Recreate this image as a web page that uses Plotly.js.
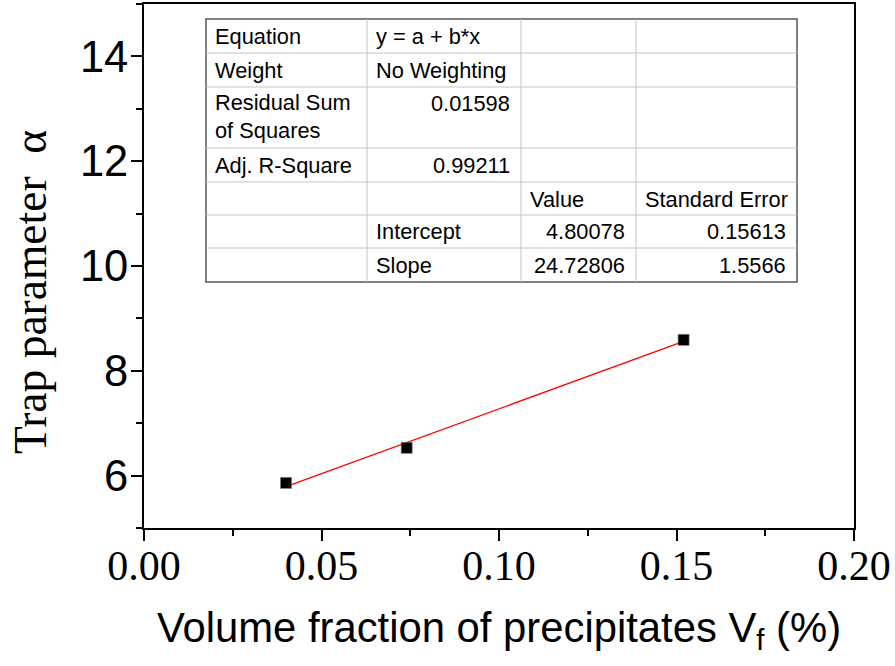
<!DOCTYPE html>
<html>
<head>
<meta charset="utf-8">
<script src="https://cdn.plot.ly/plotly-3.0.1.min.js"></script>
<style>html,body{margin:0;padding:0;background:#fff;}#chart{width:895px;height:666px;}</style>
</head>
<body>
<div id="chart"></div>
<script>
// ---- data ----
const volumeFraction = [0.040, 0.074, 0.152];
const trapParameter = [5.86, 6.53, 8.59];
const fitX = [0.040, 0.152];
const fitY = [5.79, 8.56];
const xTickVals = [0.00, 0.05, 0.10, 0.15, 0.20];
const yTickVals = [6, 8, 10, 12, 14];
const xTitle = "Volume fraction of precipitates V<sub>f</sub> (%)";
const yTitle = "Trap parameter  α";

// fit report table (rows of 4 cells)
const tableCol1 = ["Equation", "Weight", "Residual Sum<br>of Squares", "Adj. R-Square", "", "", ""];
const tableCol2 = ["y = a + b*x", "No Weighting", "0.01598", "0.99211", "", "Intercept", "Slope"];
const tableCol3 = ["", "", "", "", "Value", "4.80078", "24.72806"];
const tableCol4 = ["", "", "", "", "Standard Error", "0.15613", "1.5566"];
const tableCol2Align = ["left", "left", "right", "right", "left", "left", "left"];
const tableCol3Align = ["left", "left", "left", "left", "left", "right", "right"];
const tableCol4Align = ["left", "left", "left", "left", "left", "right", "right"];

// ---- layout geometry (pixels) ----
const W = 895, H = 666;
const PL = 144, PR = 854, PT = 4, PB = 528;
const px = v => (v - PL) / (PR - PL);
const py = v => (PB - v) / (PB - PT);

const colEdges = [206, 367, 521, 636, 797];
const rowEdges = [19, 53, 87, 148, 182, 215, 248, 282];

const shapes = [];
const annotations = [];
shapes.push({type: "rect", xref: "paper", yref: "paper",
  x0: px(colEdges[0]), x1: px(colEdges[4]), y0: py(rowEdges[0]), y1: py(rowEdges[rowEdges.length - 1]),
  fillcolor: "white", line: {color: "#555", width: 1.5}, layer: "above"});
for (let i = 1; i < rowEdges.length - 1; i++) {
  shapes.push({type: "line", xref: "paper", yref: "paper",
    x0: px(colEdges[0]), x1: px(colEdges[4]), y0: py(rowEdges[i]), y1: py(rowEdges[i]),
    line: {color: "#c4c4c4", width: 1}, layer: "above"});
}
for (let j = 1; j < colEdges.length - 1; j++) {
  shapes.push({type: "line", xref: "paper", yref: "paper",
    x0: px(colEdges[j]), x1: px(colEdges[j]), y0: py(rowEdges[0]), y1: py(rowEdges[rowEdges.length - 1]),
    line: {color: "#c4c4c4", width: 1}, layer: "above"});
}
const cols = [tableCol1, tableCol2, tableCol3, tableCol4];
const aligns = [tableCol1.map(() => "left"), tableCol2Align, tableCol3Align, tableCol4Align];
const tableFont = {family: "Liberation Sans, Arial, sans-serif", size: 21.8, color: "#000"};
for (let j = 0; j < 4; j++) {
  for (let i = 0; i < cols[j].length; i++) {
    const t = cols[j][i];
    if (!t) continue;
    const al = aligns[j][i];
    const xPix = al === "left" ? colEdges[j] + 8 : colEdges[j + 1] - 10;
    const multi = t.indexOf("<br>") >= 0;
    const yPix = rowEdges[i] + (multi ? 29.5 : 17);
    annotations.push({xref: "paper", yref: "paper", x: px(xPix), y: py(yPix),
      text: t, showarrow: false, xanchor: al, yanchor: "middle", align: al,
      font: tableFont, borderpad: 0});
  }
}

// y-axis title (placed as rotated annotation to match reference offset)
annotations.push({xref: "paper", yref: "paper", x: px(30), y: py(292),
  text: yTitle, showarrow: false, textangle: -90, xanchor: "center", yanchor: "middle",
  font: {family: "Liberation Serif, Times New Roman, serif", size: 45.5, color: "#000"}});

const traces = [
  {x: fitX, y: fitY, type: "scatter", mode: "lines",
   line: {color: "#ff0000", width: 1.3}, hoverinfo: "skip", showlegend: false},
  {x: volumeFraction, y: trapParameter, type: "scatter", mode: "markers",
   marker: {symbol: "square", size: 11, color: "#000", line: {color: "#777", width: 0.6}},
   showlegend: false}
];

const layout = {
  width: W, height: H,
  margin: {l: PL, r: W - PR, t: PT, b: H - PB, pad: 0},
  paper_bgcolor: "#fff", plot_bgcolor: "#fff",
  showlegend: false,
  xaxis: {
    range: [0, 0.2], tickvals: xTickVals, tickformat: ".2f",
    showgrid: false, zeroline: false,
    showline: true, mirror: true, linecolor: "#000", linewidth: 2,
    ticks: "outside", ticklen: 11, tickwidth: 2, tickcolor: "#000",
    minor: {dtick: 0.025, tick0: 0, ticks: "outside", ticklen: 6, tickwidth: 2, tickcolor: "#000", showgrid: false},
    tickfont: {family: "Liberation Serif, Times New Roman, serif", size: 42, color: "#000"},
    ticklabelstandoff: -11,
    title: {text: xTitle, standoff: 24,
      font: {family: "Liberation Sans, Arial, sans-serif", size: 41.8, color: "#000"}},
    automargin: false
  },
  yaxis: {
    range: [5, 15], tickvals: yTickVals,
    showgrid: false, zeroline: false,
    showline: true, mirror: true, linecolor: "#000", linewidth: 2,
    ticks: "outside", ticklen: 11, tickwidth: 2, tickcolor: "#000",
    minor: {dtick: 1, tick0: 5, ticks: "outside", ticklen: 6, tickwidth: 2, tickcolor: "#000", showgrid: false},
    tickfont: {family: "Liberation Sans, Arial, sans-serif", size: 43.5, color: "#000"},
    ticklabelstandoff: -6,
    automargin: false
  },
  shapes: shapes,
  annotations: annotations
};

Plotly.newPlot("chart", traces, layout, {displayModeBar: false, staticPlot: true});
</script>
</body>
</html>
